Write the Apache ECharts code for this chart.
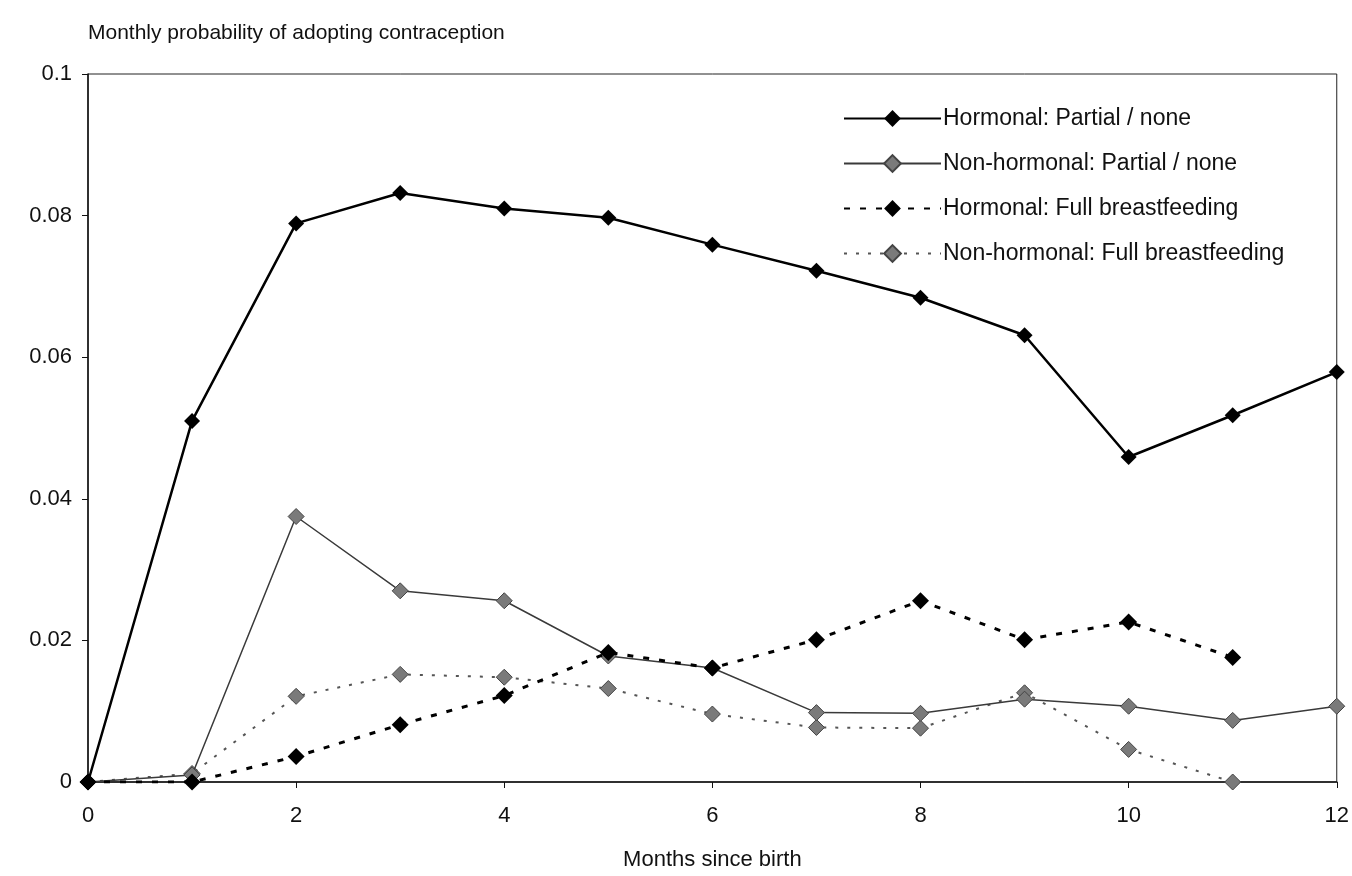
<!DOCTYPE html>
<html>
<head>
<meta charset="utf-8">
<script src="https://cdn.jsdelivr.net/npm/echarts@6/dist/echarts.min.js"></script>
<style>
  html, body { margin: 0; padding: 0; background: #fff; }
  #chart { width: 1352px; height: 876px; }
</style>
</head>
<body>
<div id="chart"></div>
<script>
// ---- Data ----
const months = [0, 1, 2, 3, 4, 5, 6, 7, 8, 9, 10, 11, 12];
const xTicks = [0, 2, 4, 6, 8, 10, 12];
const yTicks = [0, 0.02, 0.04, 0.06, 0.08, 0.1];

const seriesNames = [
  'Hormonal: Partial / none',
  'Non-hormonal: Partial / none',
  'Hormonal: Full breastfeeding',
  'Non-hormonal: Full breastfeeding'
];

const hormonalPartial    = [0, 0.051, 0.0789, 0.0832, 0.0810, 0.0797, 0.0759, 0.0722, 0.0684, 0.0631, 0.0459, 0.0518, 0.0579];
const nonHormonalPartial = [0, 0.0010, 0.0375, 0.0270, 0.0256, 0.0178, 0.0161, 0.0098, 0.0097, 0.0117, 0.0107, 0.0087, 0.0107];
const hormonalFull       = [0, 0, 0.0036, 0.0081, 0.0122, 0.0183, 0.0161, 0.0201, 0.0256, 0.0201, 0.0226, 0.0176, null];
const nonHormonalFull    = [0, 0.0012, 0.0121, 0.0152, 0.0148, 0.0132, 0.0096, 0.0077, 0.0076, 0.0126, 0.0046, 0.0000, null];

function pairs(vals) {
  const out = [];
  months.forEach((m, i) => { if (vals[i] !== null && vals[i] !== undefined) out.push([m, vals[i]]); });
  return out;
}

const FONT = '"Liberation Sans", Arial, sans-serif';
const chart = echarts.init(document.getElementById('chart'), null, { renderer: 'canvas' });

chart.setOption({
  animation: false,
  backgroundColor: '#ffffff',
  textStyle: { fontFamily: FONT, color: '#111' },
  grid: {
    left: 88, right: 14, top: 74, bottom: 91,
    show: true, borderColor: '#222', borderWidth: 1, backgroundColor: 'transparent'
  },
  legend: {
    orient: 'vertical',
    left: 838, top: 102,
    itemWidth: 97, itemHeight: 21, itemGap: 22,
    textStyle: { fontFamily: FONT, fontSize: 23, color: '#111', padding: [0, 0, 0, -3] },
    data: seriesNames
  },
  xAxis: {
    type: 'value',
    min: 0, max: 12, interval: 2,
    name: 'Months since birth',
    nameLocation: 'middle',
    nameGap: 67,
    nameTextStyle: { fontFamily: FONT, fontSize: 22, color: '#111' },
    axisLine: { show: true, lineStyle: { color: '#111', width: 1.5 } },
    axisTick: { show: true, length: 6, lineStyle: { color: '#111' } },
    splitLine: { show: false },
    axisLabel: {
      fontFamily: FONT, fontSize: 22, color: '#111', margin: 23,
      formatter: v => (xTicks.includes(v) ? String(v) : '')
    }
  },
  yAxis: {
    type: 'value',
    min: 0, max: 0.1, interval: 0.02,
    name: 'Monthly probability of adopting contraception',
    nameLocation: 'end',
    nameGap: 30,
    nameTextStyle: { fontFamily: FONT, fontSize: 21, color: '#111', align: 'left' },
    axisLine: { show: true, lineStyle: { color: '#111', width: 1.5 } },
    axisTick: { show: true, length: 6, lineStyle: { color: '#111' } },
    splitLine: { show: false },
    axisLabel: {
      fontFamily: FONT, fontSize: 22, color: '#111', margin: 16,
      formatter: v => {
        const r = parseFloat(v.toFixed(2));
        return yTicks.some(t => Math.abs(t - r) < 1e-9) ? String(r) : '';
      }
    }
  },
  series: [
    {
      name: seriesNames[0], type: 'line', data: pairs(hormonalPartial),
      symbol: 'diamond', symbolSize: 16,
      lineStyle: { color: '#000', width: 2.5, type: 'solid' },
      itemStyle: { color: '#000' }, z: 5
    },
    {
      name: seriesNames[1], type: 'line', data: pairs(nonHormonalPartial),
      symbol: 'diamond', symbolSize: 16,
      lineStyle: { color: '#3a3a3a', width: 1.5, type: 'solid' },
      itemStyle: { color: '#7a7a7a', borderColor: '#444', borderWidth: 1 }, z: 3
    },
    {
      name: seriesNames[2], type: 'line', data: pairs(hormonalFull),
      symbol: 'diamond', symbolSize: 17,
      lineStyle: { color: '#000', width: 3, type: [6, 10] },
      itemStyle: { color: '#000' }, z: 4
    },
    {
      name: seriesNames[3], type: 'line', data: pairs(nonHormonalFull),
      symbol: 'diamond', symbolSize: 16,
      lineStyle: { color: '#555', width: 2, type: [3, 9] },
      itemStyle: { color: '#7a7a7a', borderColor: '#444', borderWidth: 1 }, z: 2
    }
  ]
});
</script>
</body>
</html>
